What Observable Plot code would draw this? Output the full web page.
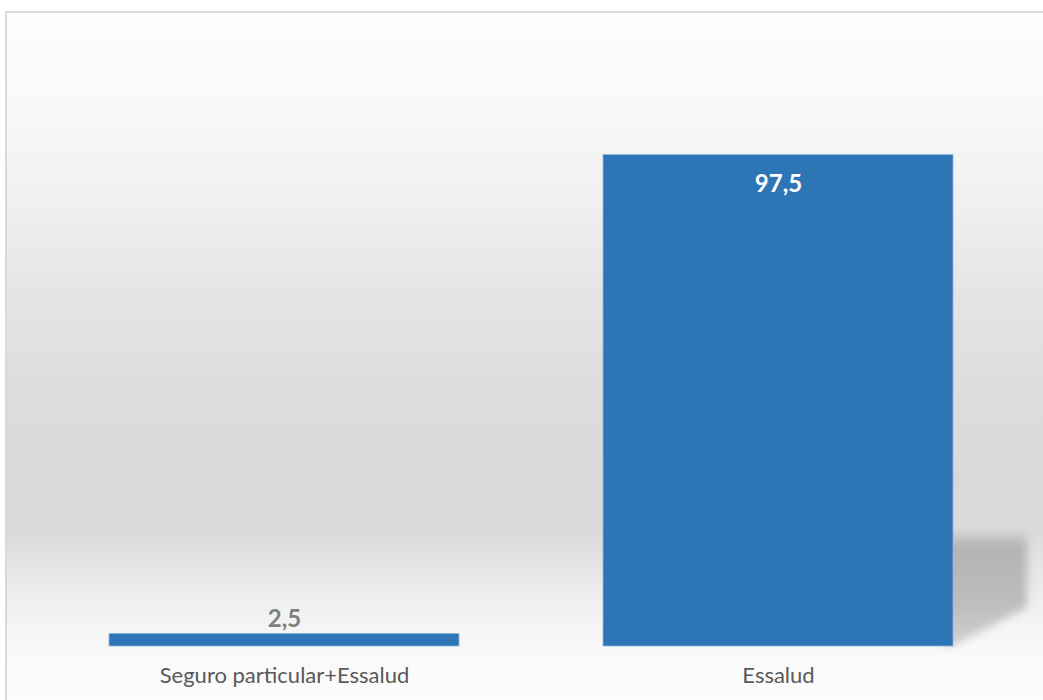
<!DOCTYPE html>
<html>
<head>
<meta charset="utf-8">
<script src="https://cdn.jsdelivr.net/npm/d3@7"></script>
<script src="https://cdn.jsdelivr.net/npm/@observablehq/plot@0.6"></script>
<style>
  html, body { margin: 0; padding: 0; background: #ffffff; width: 1043px; height: 700px; overflow: hidden; }
  #frame {
    position: absolute; left: 5px; top: 11px; width: 1100px; height: 720px;
    border: 2px solid #d9d9d9; box-sizing: border-box;
    background: linear-gradient(to bottom,
      #fdfdfd 0px, #f9f9f9 87px, #f0f0f0 187px, #e4e4e4 287px, #dcdcdc 387px,
      #d9d9d9 467px, #dadada 517px, #e3e3e3 547px, #efefef 587px, #f9f9f9 637px, #fcfcfc 687px);
  }
  #chart { position: absolute; left: 0; top: 0; }
</style>
</head>
<body>
<div id="frame"></div>
<div id="chart"></div>
<script>
const categories = ["Seguro particular+Essalud", "Essalud"];
const values = [2.5, 97.5];
const valueLabels = ["2,5", "97,5"];

const data = categories.map((c, i) => ({cat: c, value: values[i], label: valueLabels[i]}));

const font = "Lato, 'Open Sans', sans-serif";

const tall = data.filter(d => d.value > 50);
const shadow = Plot.barY(tall, {
  x: "cat", y: "value",
  render(index, scales, vals, dims, context, next) {
    const g = d3.create("svg:g");
    const defs = g.append("defs");
    const fid = "shadowBlur";
    defs.append("filter").attr("id", fid).attr("x", "-20%").attr("y", "-20%").attr("width", "140%").attr("height", "140%")
      .append("feGaussianBlur").attr("stdDeviation", 4);
    const gid = "shadowGrad";
    const lg = defs.append("linearGradient").attr("id", gid).attr("x1", 0).attr("y1", 0).attr("x2", 0).attr("y2", 1);
    lg.append("stop").attr("offset", "0%").attr("stop-color", "#cfcfcf");
    lg.append("stop").attr("offset", "12%").attr("stop-color", "#b4b4b4");
    lg.append("stop").attr("offset", "60%").attr("stop-color", "#bcbcbc");
    lg.append("stop").attr("offset", "100%").attr("stop-color", "#d0d0d0");
    for (const i of index) {
      const d = tall[i];
      const x0 = scales.x(d.cat) + scales.x.bandwidth();
      const yb = scales.y(0);
      const yt = scales.y(d.value);
      const h = yb - yt;
      const top = yb - h * 0.23;
      const w = 74;
      g.append("path")
        .attr("d", `M${x0 - 10},${top}L${x0 + w},${top}L${x0 + w},${top + w}L${x0},${yb}L${x0 - 10},${yb}Z`)
        .attr("fill", `url(#${gid})`)
        .attr("filter", `url(#${fid})`);
    }
    return g.node();
  }
});

const chart = Plot.plot({
  width: 1043,
  height: 700,
  marginTop: 142,
  marginBottom: 54,
  marginLeft: 36,
  marginRight: 18,
  style: {background: "transparent", fontFamily: font},
  x: {domain: categories, paddingInner: 0.292, paddingOuter: 0.146, label: null},
  y: {domain: [0, 100], axis: null},
  marks: [
    shadow,
    Plot.barY(data, {x: "cat", y: "value", fill: "#2e75b6", stroke: "#8fb4de", strokeWidth: 0.8}),
    Plot.text(data.filter(d => d.value <= 50), {
      x: "cat", y: "value", text: "label", dy: -15, fill: "#7f7f7f",
      fontSize: 24, fontWeight: "bold", fontFamily: font
    }),
    Plot.text(tall, {
      x: "cat", y: "value", text: "label", dy: 29, fill: "#ffffff",
      fontSize: 24, fontWeight: "bold", fontFamily: font
    }),
    Plot.axisX({tickSize: 0, tickPadding: 21, fontSize: 22, fill: "#595959", fontFamily: font, label: null})
  ]
});

document.getElementById("chart").appendChild(chart);
</script>
</body>
</html>
